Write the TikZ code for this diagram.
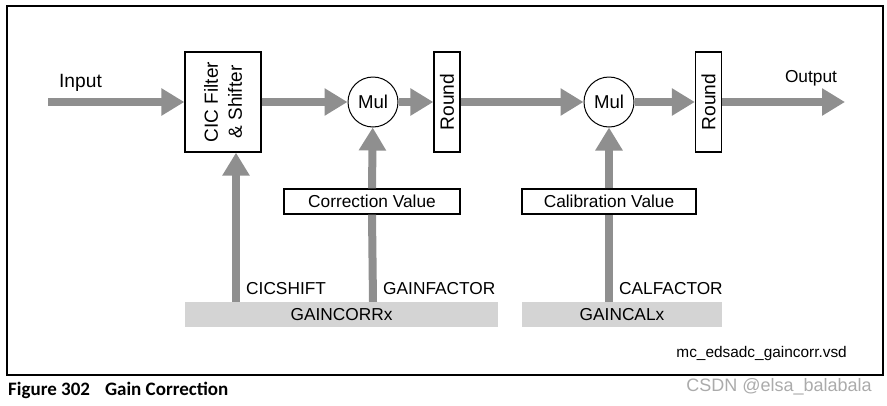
\documentclass[tikz,border=0pt]{standalone}
\usepackage{fontspec}
\setmainfont{Liberation Sans}
\newfontfamily\capfont{Carlito}
\usetikzlibrary{arrows.meta}
\definecolor{flowgray}{HTML}{8F8F8F}
\definecolor{bargray}{HTML}{D4D4D4}
\definecolor{wmgray}{HTML}{ABABAB}
\tikzset{
  flow/.style={draw=flowgray, line width=8pt, -{Triangle[length=23pt,width=26pt]}},
  flowplain/.style={draw=flowgray, line width=8pt},
  blk/.style={draw, line width=1.3pt, fill=white, inner sep=0pt},
  mulnode/.style={draw, circle, line width=1pt, fill=white, minimum size=50pt, inner sep=0pt, font=\fontsize{18.6}{20}\selectfont},
  valbox/.style={draw, line width=1.3pt, fill=white, minimum height=25pt, inner sep=0pt, font=\fontsize{17.3}{19}\selectfont},
  regbar/.style={fill=bargray, minimum height=25pt, inner sep=0pt, font=\fontsize{17.3}{19}\selectfont},
  lbl/.style={inner sep=0pt, font=\fontsize{17.3}{19}\selectfont},
  rottext/.style={rotate=90, inner sep=0pt, font=\fontsize{19.2}{24}\selectfont},
}
\begin{document}
\begin{tikzpicture}[x=1pt,y=-1pt]
\useasboundingbox (0,0) rectangle (887,405);
\draw[line width=1.2pt] (7,6) rectangle (883,375);

% blocks
\node[blk, minimum width=76pt, minimum height=100pt] (cic) at (223,102) {};
\node[rottext, align=center, font=\fontsize{19}{24}\selectfont] (cictext) at (cic.center) {CIC Filter\\\& Shifter};
\node[mulnode] (mul1) at (373,102) {Mul};
\node[blk, minimum width=26pt, minimum height=100pt] (round1) at (447,102) {};
\node[rottext] (r1text) at (round1.center) {Round};
\node[mulnode] (mul2) at (609,102) {Mul};
\node[blk, minimum width=26pt, minimum height=100pt] (round2) at (708.5,102) {};
\node[rottext] (r2text) at (round2.center) {Round};

\node[valbox, minimum width=176pt] (corr) at (372,201.5) {Correction Value};
\node[valbox, minimum width=174pt] (cal) at (609,201.5) {Calibration Value};

\node[regbar, minimum width=313pt] (gaincorr) at (341.5,314.5) {GAINCORRx};
\node[regbar, minimum width=200pt] (gaincal) at (622,314.5) {GAINCALx};

% coordinates
\coordinate (inp) at (48,102);
\coordinate (outp) at (845,102);
\coordinate (xcic) at (236,0);

% horizontal flow
\draw[flow] (inp) -- (cic);
\draw[flow] (cic.east) -- (mul1);
\draw[flow] (mul1) -- (round1);
\draw[flow] (round1.east) -- (mul2);
\draw[flow] (mul2) -- (round2);
\draw[flow] (round2.east) -- (outp);

% vertical flow
\draw[flow] (gaincorr.north -| xcic) -- (cic.south -| xcic);
\draw[flowplain] (gaincorr.north -| mul1) -- (corr.south);
\draw[flow] (corr.north) -- (mul1);
\draw[flowplain] (gaincal.north -| mul2) -- (cal.south);
\draw[flow] (cal.north) -- (mul2);

% labels
\node[inner sep=0pt, font=\fontsize{19.2}{21}\selectfont] (inlbl) at (80.5,83) {Input};
\node[lbl] (outlbl) at (811,78) {Output};
\node[lbl, anchor=west] (l1) at (246,289) {CICSHIFT};
\node[lbl, anchor=west] (l2) at (383,289) {GAINFACTOR};
\node[lbl, anchor=west] (l3) at (619,289) {CALFACTOR};
\node[inner sep=0pt, anchor=east, font=\fontsize{15.4}{17}\selectfont] (file) at (847,354) {mc\_edsadc\_gaincorr.vsd};
\node[inner sep=0pt, anchor=west, font=\capfont\bfseries\fontsize{19}{21}\selectfont] (caption) at (8,390) {Figure 302\hspace{15pt}Gain Correction};
\node[inner sep=0pt, anchor=east, text=wmgray, font=\fontsize{18}{20}\selectfont] (wm) at (872,387) {CSDN @elsa\_balabala};
\end{tikzpicture}
\end{document}
